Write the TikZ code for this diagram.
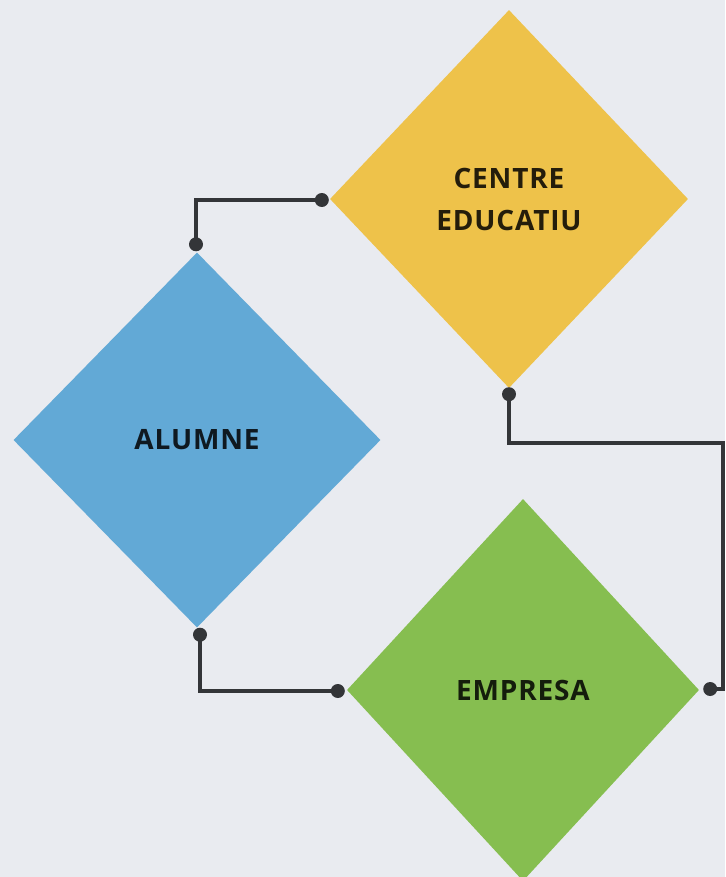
\documentclass[tikz,border=0pt]{standalone}
\usepackage{fontspec}
\setmainfont{Open Sans}
\newfontfamily\labfont[LetterSpace=3]{Open Sans}
\usetikzlibrary{shapes.geometric,calc}
\definecolor{bgc}{HTML}{E9EBF0}
\definecolor{yel}{HTML}{EEC24A}
\definecolor{blu}{HTML}{62A9D6}
\definecolor{grn}{HTML}{86BE50}
\definecolor{lnc}{HTML}{333538}
\tikzset{
  dia/.style={diamond, inner sep=0pt, align=center, font=\labfont\fontsize{28}{42}\selectfont\bfseries},
  conn/.style={draw=lnc, line width=3.5pt},
  dotc/.style={fill=lnc, circle, inner sep=0pt, minimum size=14pt}
}
\begin{document}
\begin{tikzpicture}[x=1pt,y=-1pt]
\fill[bgc] (0,0) rectangle (725,877);
\useasboundingbox (0,0) rectangle (725,877);
\node[dia, fill=yel, minimum width=358pt, minimum height=378pt, text=black!85!yel] (ce) at (509,199) {CENTRE\\EDUCATIU};
\node[dia, fill=blu, minimum width=367pt, minimum height=375pt, text=black!85!blu] (al) at (197,440) {ALUMNE};
\node[dia, fill=grn, minimum width=352pt, minimum height=382pt, text=black!85!grn] (em) at (523,690) {EMPRESA};
% connection points
\coordinate (p1) at ($(ce.west)+(-8,1)$);
\coordinate (p2) at ($(al.north)+(-1,-8)$);
\coordinate (p3) at ($(ce.south)+(0,6)$);
\coordinate (p4) at ($(em.east)+(11,-1)$);
\coordinate (p5) at ($(al.south)+(3,7)$);
\coordinate (p6) at ($(em.west)+(-9,1)$);
\coordinate (r1) at (723,443);
\coordinate (r2) at (723,689);
\draw[conn] (p1) -| (p2);
\draw[conn] (p3) |- (r1) -- (r2) -- (p4);
\draw[conn] (p5) |- (p6);
\node[dotc] (d1) at (p1) {};
\node[dotc] (d2) at (p2) {};
\node[dotc] (d3) at (p3) {};
\node[dotc] (d4) at (p4) {};
\node[dotc] (d5) at (p5) {};
\node[dotc] (d6) at (p6) {};
\end{tikzpicture}
\end{document}
